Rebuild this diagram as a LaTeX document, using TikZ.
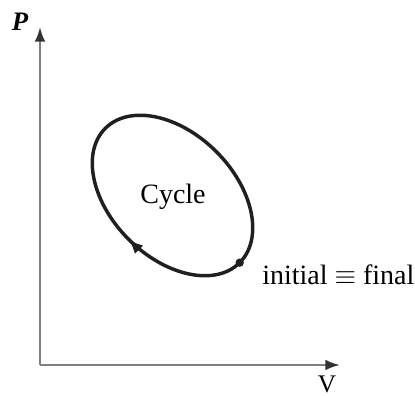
\documentclass[tikz,border=0pt]{standalone}
\usepackage{fontspec}
\setmainfont{Liberation Serif}
\usetikzlibrary{arrows.meta,decorations.markings,calc}
\begin{document}
\begin{tikzpicture}[x=0.75pt,y=0.75pt,
  axis/.style={draw=black!50, line width=1.7pt, -{Latex[length=11pt,width=8pt,color=black!80]}},
  cyc/.style={draw=black!88, line width=2.6pt},
  lbl/.style={inner sep=0pt, font=\fontsize{20}{24}\selectfont}]
\useasboundingbox (0,0) rectangle (415,396);
\coordinate (O) at (40,31);
\coordinate (ytip) at (40,369);
\coordinate (xtip) at (340,31);
\draw[axis] (O) -- (ytip);
\draw[axis] (O) -- (xtip);
\node[lbl] (P) at (20,374) {\textbf{\textit{P}}};
\node[lbl, font=\fontsize{19}{22}\selectfont] (V) at (327,12) {V};
\coordinate (c) at (172.5,200.5);
\draw[cyc, rotate around={-45:(c)}, postaction={decorate},
  decoration={markings, mark=at position 0.75 with {\arrowreversed{Latex[length=11pt,width=9pt]}}}]
  (c) ellipse [x radius=95, y radius=62];
\coordinate (dot) at ($(c)+(-45:95)$);
\fill[black!88] (dot) circle (4.2);
\node[lbl, font=\fontsize{21}{24}\selectfont] (cycle) at (173,199) {Cycle};
\node[lbl, font=\fontsize{21}{24}\selectfont, anchor=west] (if) at (262,121) {initial \(\equiv\) final};
\end{tikzpicture}
\end{document}
